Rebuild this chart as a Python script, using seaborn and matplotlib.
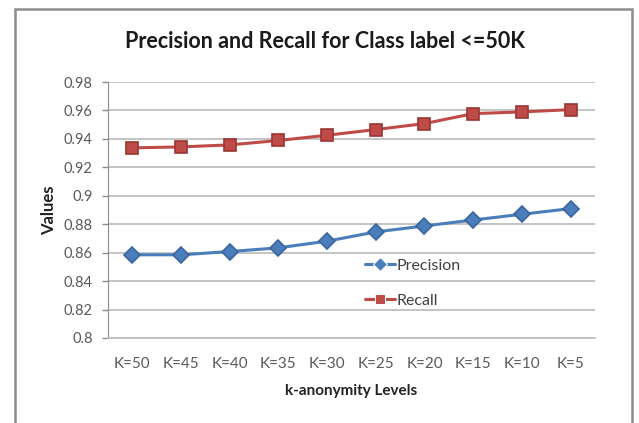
import numpy as np
import pandas as pd
import matplotlib
matplotlib.use("Agg")
import matplotlib.pyplot as plt
import seaborn as sns
from matplotlib.patches import Rectangle

# ── Data ──
levels = ["K=50", "K=45", "K=40", "K=35", "K=30", "K=25", "K=20", "K=15", "K=10", "K=5"]
precision = [0.8585, 0.8585, 0.8608, 0.8634, 0.8681, 0.8746, 0.8788, 0.8830, 0.8870, 0.8910]
recall = [0.9337, 0.9344, 0.9358, 0.9389, 0.9426, 0.9466, 0.9508, 0.9578, 0.9590, 0.9606]
y_ticks = [0.8, 0.82, 0.84, 0.86, 0.88, 0.9, 0.92, 0.94, 0.96, 0.98]
y_tick_labels = ["0.8", "0.82", "0.84", "0.86", "0.88", "0.9", "0.92", "0.94", "0.96", "0.98"]

df = pd.DataFrame({
    "level": levels * 2,
    "value": precision + recall,
    "series": ["Precision"] * len(levels) + ["Recall"] * len(levels),
})

sns.set_style("white")
plt.rcParams["font.family"] = ["Lato", "DejaVu Sans"]

fig = plt.figure(figsize=(6.39, 4.23), dpi=100)
ax = fig.add_axes([0.169, 0.201, 0.762, 0.605])

palette = {"Precision": "#4A7EBB", "Recall": "#BE4B48"}
edges = {"Precision": "#3A669C", "Recall": "#9A3532"}
markers = {"Precision": "D", "Recall": "s"}
sns.lineplot(data=df, x="level", y="value", hue="series", style="series",
             palette=palette, markers=markers, dashes=False, sort=False,
             lw=2.2, markersize=8, ax=ax)
for ln, name in zip(ax.lines, ["Precision", "Recall"]):
    ln.set_markeredgecolor(edges[name])
    ln.set_markeredgewidth(1.2)

ax.set_ylim(0.8, 0.98)
ax.set_xlim(-0.5, len(levels) - 0.5)
ax.set_yticks(y_ticks)
ax.set_yticklabels(y_tick_labels)
ax.yaxis.grid(True, color="#BFBFBF", lw=1.3)
ax.tick_params(axis="y", length=4, color="#8C8C8C", width=1, left=True,
               labelsize=10.5, labelcolor="#595959", pad=7)
ax.tick_params(axis="x", length=0, labelsize=11, labelcolor="#595959", pad=14)
for side in ["top", "right"]:
    ax.spines[side].set_visible(False)
ax.spines["left"].set_color("#8C8C8C")
ax.spines["bottom"].set_color("#BFBFBF")
ax.spines["bottom"].set_linewidth(1.3)

ax.set_xlabel("k-anonymity Levels", fontsize=11, fontweight="bold", color="#222222", labelpad=9)
ax.set_ylabel("Values", fontsize=12, fontweight="bold", color="#222222", labelpad=5)
fig.text(325 / 639, 1 - 42 / 423, "Precision and Recall for Class label <=50K",
         fontsize=15.5, fontweight="bold", color="#1a1a1a", ha="center", va="center")

leg = ax.legend(loc="center left", bbox_to_anchor=(0.515, 0.2135), frameon=False,
                fontsize=11.5, handlelength=1.9, handletextpad=0.05,
                labelspacing=1.3, labelcolor="#404040", borderaxespad=0)
for h in leg.legend_handles:
    h.set_markersize(7)

# chart border
fig.patches.append(Rectangle((15 / 639, -0.05), 617 / 639, 1 - 9 / 423 + 0.05,
                             transform=fig.transFigure, fill=False,
                             edgecolor="#8C8C8C", lw=1.8))

fig.savefig("out.png", dpi=100)
